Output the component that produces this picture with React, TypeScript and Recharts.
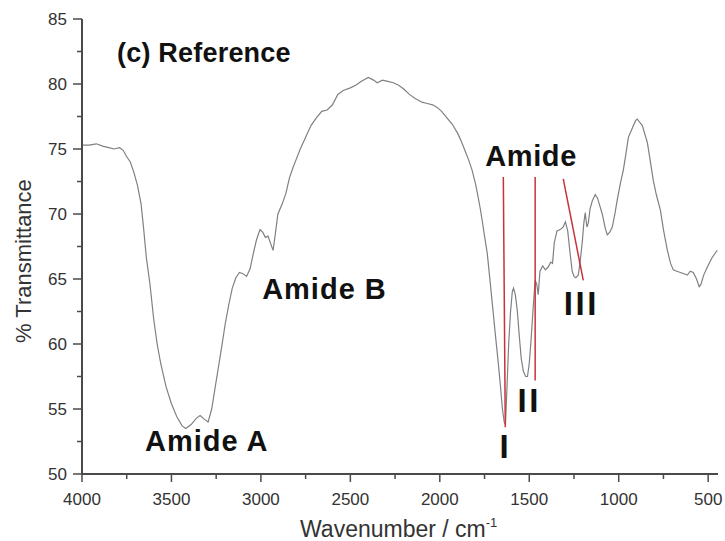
import { LineChart, Line, XAxis, YAxis, ReferenceLine, ReferenceDot } from 'recharts';

// FTIR spectrum (wavenumber cm-1, % transmittance)
const wavenumbers = [
  4000, 3960, 3920, 3880, 3850, 3820, 3790, 3770, 3750, 3730, 3710, 3690, 3670, 3655, 3640, 3620,
  3600, 3580, 3560, 3530, 3500, 3470, 3440, 3420, 3390, 3360, 3340, 3315, 3295, 3275, 3260, 3240,
  3220, 3200, 3180, 3160, 3140, 3120, 3100, 3080, 3060, 3045, 3025, 3005, 2990, 2975, 2960, 2945,
  2932, 2920, 2905, 2880, 2860, 2840, 2820, 2800, 2780, 2750, 2720, 2690, 2660, 2630, 2600, 2570,
  2540, 2500, 2470, 2440, 2400, 2370, 2350, 2320, 2290, 2260, 2230, 2200, 2170, 2140, 2100, 2070,
  2040, 2015, 1990, 1960, 1930, 1900, 1880, 1860, 1840, 1820, 1800, 1790, 1775, 1763, 1750, 1735,
  1718, 1700, 1690, 1675, 1662, 1650, 1640, 1633, 1625, 1615, 1605, 1595, 1588, 1578, 1567, 1555,
  1545, 1533, 1520, 1510, 1500, 1490, 1478, 1467, 1458, 1450, 1440, 1425, 1410, 1395, 1380, 1370,
  1360, 1345, 1327, 1310, 1298, 1285, 1272, 1260, 1250, 1240, 1226, 1215, 1204, 1195, 1187, 1178,
  1170, 1160, 1148, 1131, 1118, 1105, 1092, 1075, 1064, 1050, 1036, 1020, 1008, 990, 974, 960,
  946, 930, 918, 905, 896, 880, 868, 855, 840, 825, 807, 790, 767, 750, 728, 710,
  695, 675, 655, 635, 616, 600, 583, 565, 550, 540, 525, 505, 480, 460, 449,
];
const transmittance = [
  75.3, 75.3, 75.4, 75.2, 75.1, 75.0, 75.1, 74.9, 74.4, 74.0, 73.2, 72.2, 70.8, 68.8, 66.6, 64.6,
  62.0, 60.0, 58.5, 56.7, 55.4, 54.4, 53.7, 53.5, 53.8, 54.3, 54.5, 54.2, 54.0, 55.0, 56.3, 58.0,
  59.7, 61.5, 63.0, 64.3, 65.1, 65.5, 65.4, 65.2, 65.8, 66.8, 68.0, 68.8, 68.6, 68.2, 68.3, 67.7,
  67.2, 68.4, 70.0, 70.8, 71.6, 72.8, 73.6, 74.3, 75.0, 75.9, 76.8, 77.4, 77.9, 78.0, 78.4, 79.2,
  79.5, 79.7, 79.9, 80.2, 80.5, 80.3, 80.1, 80.3, 80.2, 80.1, 79.9, 79.6, 79.2, 78.9, 78.6, 78.5,
  78.4, 78.2, 77.9, 77.4, 76.9, 76.2, 75.6, 74.9, 74.2, 73.4, 72.3, 71.6, 70.5, 69.5, 68.3, 67.0,
  64.7, 62.2, 60.8, 58.8, 56.9, 55.0, 54.0, 53.8, 56.5, 60.0, 62.4, 64.0, 64.3, 63.8, 62.6, 60.5,
  58.9, 57.9, 57.5, 57.5, 58.5, 60.3, 62.8, 64.9, 64.6, 63.8, 65.6, 66.0, 65.7, 65.9, 66.3, 66.2,
  67.8, 68.7, 68.8, 69.0, 69.4, 68.7, 67.0, 65.6, 65.2, 65.1, 65.3, 66.4, 67.8, 69.3, 70.1, 69.0,
  69.3, 70.4, 71.0, 71.5, 71.2, 70.6, 70.0, 68.9, 68.4, 68.6, 69.0, 70.1, 71.1, 72.4, 73.4, 74.6,
  75.9, 76.4, 76.8, 77.2, 77.3, 77.0, 76.8, 76.2, 75.5, 74.2, 72.6, 71.5, 70.3, 68.8, 67.2, 66.2,
  65.7, 65.6, 65.5, 65.4, 65.3, 65.6, 65.5, 65.0, 64.4, 64.6, 65.3, 65.9, 66.6, 67.0, 67.2,
];

const xMajorTicks = [4000, 3500, 3000, 2500, 2000, 1500, 1000, 500];
const xMinorTicks = [3750, 3250, 2750, 2250, 1750, 1250, 750];
const yMajorTicks = [50, 55, 60, 65, 70, 75, 80, 85];
const yMinorTicks = [52.5, 57.5, 62.5, 67.5, 72.5, 77.5, 82.5];

// text annotations placed in data coordinates
const annotations = [
  { text: '(c) Reference', wn: 3804, t: 81.7, size: 27, anchor: 'start', spacing: 0.2 },
  { text: 'Amide A', wn: 3648, t: 51.8, size: 29, anchor: 'start', spacing: 1 },
  { text: 'Amide B', wn: 2993, t: 63.5, size: 29, anchor: 'start', spacing: 1 },
  { text: 'Amide', wn: 1746, t: 73.7, size: 29, anchor: 'start', spacing: 0.6 },
  { text: 'I', wn: 1634, t: 51.2, size: 33, anchor: 'middle', spacing: 2.5 },
  { text: 'II', wn: 1500, t: 54.8, size: 33, anchor: 'middle', spacing: 2.5 },
  { text: 'III', wn: 1209, t: 62.2, size: 33, anchor: 'middle', spacing: 2.5 },
];

// red pointer lines: [wn1, t1, wn2, t2]
const pointers = [
  [1645, 72.85, 1634, 53.6],
  [1467, 72.85, 1467, 57.2],
  [1310, 72.7, 1198, 64.9],
];

const data = wavenumbers.map((wn, i) => ({ wn, t: transmittance[i] }));

const FONT = '"Liberation Sans", Arial, sans-serif';
const AXIS = '#4a4a4a';

const XTick = ({ x, y, payload }: any) => {
  const major = xMajorTicks.includes(payload.value);
  return (
    <g>
      <line x1={x} x2={x} y1={y} y2={y + (major ? 8 : 5)} stroke={AXIS} strokeWidth={1.5} />
      {major && (
        <text x={x} y={y + 31} textAnchor="middle" fontSize={17} fill="#333" fontFamily={FONT}>
          {payload.value}
        </text>
      )}
    </g>
  );
};

const YTick = ({ x, y, payload }: any) => {
  const major = yMajorTicks.includes(payload.value);
  return (
    <g>
      <line x1={x - (major ? 9 : 5)} x2={x} y1={y} y2={y} stroke={AXIS} strokeWidth={1.5} />
      {major && (
        <text x={x - 15} y={y} dy="0.35em" textAnchor="end" fontSize={17} fill="#333" fontFamily={FONT}>
          {payload.value}
        </text>
      )}
    </g>
  );
};

const App = () => {
  return (
    <div style={{ position: 'absolute', left: 0, top: 0, width: 725, height: 541, background: '#fff' }}>
      <LineChart width={725} height={541} data={data} margin={{ top: 19, right: 7, left: 0, bottom: 0 }}>
        <XAxis
          dataKey="wn"
          type="number"
          domain={[445, 4000]}
          reversed
          ticks={[...xMajorTicks, ...xMinorTicks]}
          interval={0}
          height={67}
          tickSize={0}
          tickMargin={0}
          tickLine={false}
          axisLine={{ stroke: AXIS, strokeWidth: 2 }}
          tick={<XTick />}
        />
        <YAxis
          type="number"
          domain={[50, 85]}
          ticks={[...yMajorTicks, ...yMinorTicks]}
          interval={0}
          width={82}
          tickSize={0}
          tickMargin={0}
          tickLine={false}
          axisLine={{ stroke: AXIS, strokeWidth: 2 }}
          tick={<YTick />}
        />
        <Line
          type="linear"
          dataKey="t"
          stroke="#808080"
          strokeWidth={1.2}
          dot={false}
          isAnimationActive={false}
        />
        {pointers.map((p, i) => (
          <ReferenceLine
            key={`ptr-${i}`}
            segment={[{ x: p[0], y: p[1] }, { x: p[2], y: p[3] }]}
            stroke="#c8323a"
            strokeWidth={1.5}
            ifOverflow="visible"
          />
        ))}
        {annotations.map((a) => (
          <ReferenceDot
            key={a.text}
            x={a.wn}
            y={a.t}
            r={0}
            ifOverflow="visible"
            shape={(p: any) => (
              <text
                x={p.cx}
                y={p.cy}
                textAnchor={a.anchor}
                fontSize={a.size}
                fontWeight="bold"
                letterSpacing={a.spacing}
                fill="#111"
                fontFamily={FONT}
              >
                {a.text}
              </text>
            )}
          />
        ))}
      </LineChart>
      <svg width={725} height={541} style={{ position: 'absolute', left: 0, top: 0, pointerEvents: 'none' }}>
        <text x={300} y={537} fontSize={23} fill="#333" fontFamily={FONT}>
          Wavenumber / cm
          <tspan fontSize={13} dy={-10}>-1</tspan>
        </text>
        <text
          x={31}
          y={343}
          transform="rotate(-90 31 343)"
          fontSize={22}
          fill="#333"
          fontFamily={FONT}
        >
          % Transmittance
        </text>
      </svg>
    </div>
  );
};

export default App;
